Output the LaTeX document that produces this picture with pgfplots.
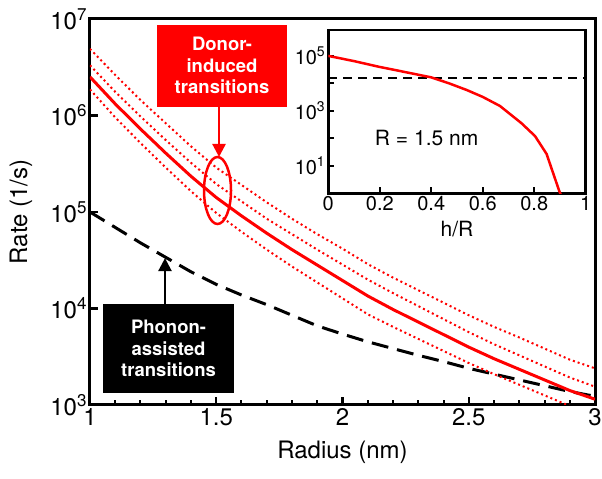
\documentclass[border=0pt]{standalone}
\usepackage{pgfplots}
\pgfplotsset{compat=1.18}
\usepackage{fontspec}
\setmainfont{TeX Gyre Heros}
\usetikzlibrary{arrows.meta}
\definecolor{pred}{RGB}{255,0,0}
\newcommand{\pw}[1]{10\raisebox{9bp}{\fontsize{17bp}{17bp}\selectfont #1}}
\newcommand{\pws}[1]{10\raisebox{7.5bp}{\fontsize{14bp}{14bp}\selectfont #1}}
\begin{document}
\begin{tikzpicture}
\begin{axis}[
 at={(0,0)}, anchor=south west,
 scale only axis, width=505bp, height=386bp,
 xmin=1, xmax=3, ymin=1e3, ymax=1e7, ymode=log,
 axis line style={line width=3bp},
 tick align=inside, tick pos=left,
 major tick length=8bp, minor tick length=5bp,
 major tick style={line width=2.5bp, black},
 minor tick style={line width=2bp, black},
 xtick={1,1.5,2,2.5,3}, xticklabels={1,1.5,2,2.5,3}, minor x tick num=4,
 ytick={1e3,1e4,1e5,1e6,1e7}, yticklabels={\pw{3},\pw{4},\pw{5},\pw{6},\pw{7}},
 yminorticks=false,
 tick label style={font=\fontsize{24bp}{28bp}\selectfont},
 label style={font=\fontsize{24bp}{28bp}\selectfont},
 xlabel={Radius (nm)}, ylabel={Rate (1/s)},
 xlabel style={at={(axis description cs:0.5,-0.1218)}, anchor=center},
 ylabel style={at={(axis description cs:-0.1366,0.5)}, anchor=center},
]
% phonon-assisted (dashed)
\addplot[black, line width=3bp, dash pattern=on 17bp off 9bp] table {
1.0 1.000e5
1.1 6.918e4
1.2 4.786e4
1.3 3.388e4
1.4 2.399e4
1.5 1.778e4
1.6 1.380e4
1.7 1.096e4
1.8 8.511e3
1.9 6.607e3
2.0 5.433e3
2.1 4.519e3
2.2 3.846e3
2.3 3.273e3
2.4 2.818e3
2.5 2.399e3
2.6 2.089e3
2.7 1.820e3
2.8 1.585e3
2.9 1.380e3
3.0 1.230e3
};
% top dotted
\addplot[pred, line width=2bp, dash pattern=on 2bp off 3bp] table {
1.0 4.898e6
1.1 2.630e6
1.2 1.445e6
1.3 8.318e5
1.4 4.786e5
1.5 2.884e5
1.6 1.905e5
1.7 1.259e5
1.8 8.511e4
1.9 5.888e4
2.0 4.169e4
2.1 2.884e4
2.2 2.089e4
2.3 1.549e4
2.4 1.148e4
2.5 8.511e3
2.6 6.457e3
2.7 5.012e3
2.8 3.846e3
2.9 2.951e3
3.0 2.399e3
};
% second dotted
\addplot[pred, line width=2bp, dash pattern=on 2bp off 3bp] table {
1.0 3.311e6
1.1 1.758e6
1.2 9.772e5
1.3 5.559e5
1.4 3.236e5
1.5 1.950e5
1.6 1.288e5
1.7 8.511e4
1.8 5.888e4
1.9 4.074e4
2.0 2.851e4
2.1 1.995e4
2.2 1.445e4
2.3 1.059e4
2.4 7.762e3
2.5 5.689e3
2.6 4.266e3
2.7 3.273e3
2.8 2.512e3
2.9 1.928e3
3.0 1.549e3
};
% bottom dotted
\addplot[pred, line width=2bp, dash pattern=on 2bp off 3bp] table {
1.0 1.862e6
1.1 9.550e5
1.2 5.188e5
1.3 2.884e5
1.4 1.641e5
1.5 9.772e4
1.6 6.237e4
1.7 4.074e4
1.8 2.723e4
1.9 1.862e4
2.0 1.274e4
2.1 8.710e3
2.2 6.457e3
2.3 4.842e3
2.4 3.631e3
2.5 2.723e3
2.6 2.089e3
2.7 1.622e3
2.8 1.259e3
2.9 9.772e2
3.0 7.943e2
};
% donor-induced (solid)
\addplot[pred, line width=3bp] table {
1.0 2.512e6
1.1 1.318e6
1.2 7.244e5
1.3 4.074e5
1.4 2.344e5
1.5 1.413e5
1.6 9.120e4
1.7 6.026e4
1.8 4.074e4
1.9 2.818e4
2.0 1.950e4
2.1 1.349e4
2.2 9.772e3
2.3 7.244e3
2.4 5.370e3
2.5 3.981e3
2.6 3.020e3
2.7 2.344e3
2.8 1.820e3
2.9 1.413e3
3.0 1.148e3
};
\node[fill=pred, text=white, minimum width=130bp, minimum height=82bp, align=center, inner sep=0pt,
 font=\bfseries\fontsize{18.5bp}{21.5bp}\selectfont] at (axis cs:1.523,3.28e6) {Donor-\\induced\\transitions};
\draw[pred, line width=2.5bp, -{Triangle[length=13bp,width=13bp]}] (axis cs:1.511,1.23e6) -- (axis cs:1.511,3.72e5);
\draw[pred, line width=2.5bp] (axis cs:1.505,1.67e5) ellipse [x radius=13.5bp, y radius=33.5bp];
\node[fill=black, text=white, minimum width=131bp, minimum height=89bp, align=center, inner sep=0pt,
 font=\bfseries\fontsize{18.5bp}{21.5bp}\selectfont] at (axis cs:1.311,3846) {Phonon-\\assisted\\transitions};
\draw[black, line width=2.5bp, -{Triangle[length=13bp,width=13bp]}] (axis cs:1.297,1.109e4) -- (axis cs:1.297,3.327e4);
\end{axis}
\begin{axis}[
 at={(238.3bp,211.7bp)}, anchor=south west,
 scale only axis, width=257.4bp, height=163.3bp,
 xmin=0, xmax=1, ymode=log, ymin=1, ymax=8.51e5,
 axis background/.style={fill=white},
 axis line style={line width=2.5bp},
 tick align=inside, tick pos=left,
 major tick length=6bp,
 major tick style={line width=2bp, black},
 xtick={0,0.2,0.4,0.6,0.8,1}, xticklabels={0,0.2,0.4,0.6,0.8,1},
 ytick={10,100,1000,10000,100000}, yticklabels={\pws{1},,\pws{3},,\pws{5}},
 yminorticks=false,
 tick label style={font=\fontsize{20bp}{24bp}\selectfont},
 label style={font=\fontsize{21bp}{25bp}\selectfont},
 xlabel={h/R},
 xlabel style={at={(axis description cs:0.5,-0.22)}, anchor=center},
]
\addplot[black, line width=2bp, dash pattern=on 9bp off 6bp] table {
0 1.6e4
1 1.6e4
};
\addplot[pred, line width=2.5bp] table {
0.000 9.77e4
0.100 6.31e4
0.194 3.98e4
0.300 2.51e4
0.400 1.62e4
0.470 9.77e3
0.538 5.62e3
0.600 3.16e3
0.667 1.48e3
0.751 3.47e2
0.803 1.20e2
0.848 2.69e1
0.897 1.23
0.905 0.8
};
\node[font=\fontsize{21bp}{25bp}\selectfont] at (axis cs:0.382,100) {R = 1.5 nm};
\end{axis}
\pgfresetboundingbox
\path[use as bounding box] (-90bp,-74bp) rectangle (512bp,405bp);
\end{tikzpicture}
\end{document}
